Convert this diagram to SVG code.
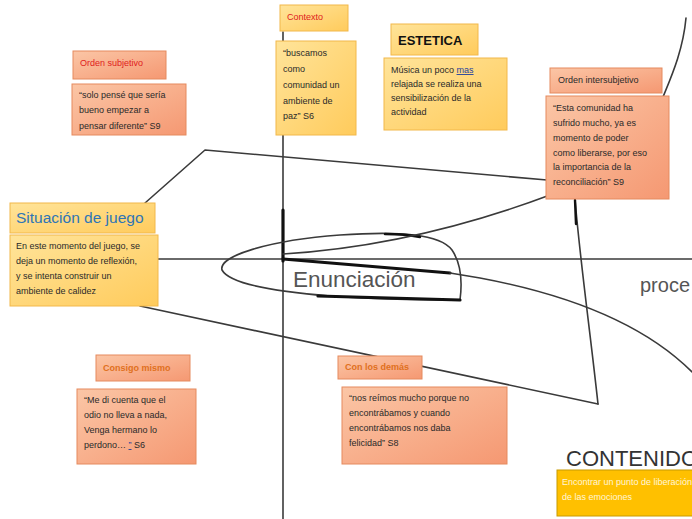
<svg xmlns="http://www.w3.org/2000/svg" width="692" height="519" viewBox="0 0 692 519">
<style>
.ln{fill:none;stroke:#3a3a3a;stroke-width:1.6;stroke-linecap:round;stroke-linejoin:round}
.bold{fill:none;stroke:#111;stroke-width:3.2;stroke-linecap:round}
.sal{fill:url(#gS);stroke:#e58a5e;stroke-width:1}
.yel{fill:url(#gY);stroke:#f2b84a;stroke-width:1}
text{font-family:"Liberation Sans",Arial,sans-serif;font-size:9px;fill:#2a2a2a}
.red{fill:#e02020}
.org{fill:#e07020;font-weight:bold}
.big{fill:#555}
.lt{fill:#fff6d8}
.u{fill:#1f3f9f;text-decoration:underline}
</style>
<defs>
<linearGradient id="gS" x1="0" y1="0" x2="1" y2="1"><stop offset="0" stop-color="#fbc6a6"/><stop offset="1" stop-color="#f59872"/></linearGradient>
<linearGradient id="gY" x1="0" y1="0" x2="1" y2="1"><stop offset="0" stop-color="#ffe49a"/><stop offset="1" stop-color="#ffcb5c"/></linearGradient>
</defs>
<rect width="692" height="519" fill="#fff"/>
<g id="connectors">
<line class="ln" x1="283" y1="32" x2="283" y2="519"/>
<line class="bold" x1="283" y1="210" x2="283" y2="261"/>
<line class="ln" x1="158" y1="259" x2="692" y2="259" style="stroke-width:1.3"/>
<path class="ln" d="M145,203 L205,150 L547,180"/>
<path class="ln" d="M140,306 L598,404"/>
<path class="ln" d="M575,199 C580,260 590,330 598,404"/>
<line class="bold" x1="575" y1="200" x2="576" y2="224" style="stroke-width:2.4"/>
<path class="ln" d="M460,300 C420,300 370,299 330,296 C280,292 230,285 222,270 C218,256 270,240 340,235 C400,231 440,234 452,250 C462,265 462,285 460,300"/>
<path class="bold" d="M318,296 C380,298 430,299 460,300"/>
<path class="bold" d="M385,234 C400,234 410,235 420,237" style="stroke-width:2.4"/>
<path class="ln" d="M283,254 C380,248 470,225 550,195 C600,175 650,130 663,97 C672,75 683,50 686,18"/>
<path class="bold" d="M283,259 L450,273"/>
<path class="ln" d="M450,273 L480,278 C560,293 640,320 692,372"/>
</g>
<text class="big" x="293" y="287" style="font-size:22.5px">Enunciación</text>
<text class="big" x="640" y="292" style="font-size:20px">proce</text>
<text x="566" y="466" style="font-size:22px;fill:#333">CONTENIDO</text>
<g id="orden-subjetivo">
<rect class="sal" x="73" y="51" width="93" height="28"/>
<text class="red" x="80" y="66">Orden subjetivo</text>
</g>
<g id="quote-subjetivo">
<rect class="sal" x="72" y="84" width="114" height="51"/>
<text x="79" y="98">“solo pensé que sería</text>
<text x="79" y="113">bueno empezar a</text>
<text x="79" y="129">pensar diferente” S9</text>
</g>
<g id="contexto">
<rect class="yel" x="280" y="5" width="68" height="26"/>
<text class="red" x="287" y="20">Contexto</text>
</g>
<g id="quote-contexto">
<rect class="yel" x="276" y="41" width="80" height="94"/>
<text x="283" y="56">“buscamos</text>
<text x="283" y="72">como</text>
<text x="283" y="88">comunidad un</text>
<text x="283" y="104">ambiente de</text>
<text x="283" y="119">paz” S6</text>
</g>
<g id="estetica">
<rect class="yel" x="391" y="24" width="87" height="31"/>
<text x="398" y="45" style="font-size:13px;font-weight:bold;fill:#111">ESTETICA</text>
</g>
<g id="quote-estetica">
<rect class="yel" x="384" y="58" width="123" height="72"/>
<text x="391" y="73">Música un poco <tspan class="u">mas</tspan></text>
<text x="391" y="87">relajada se realiza una</text>
<text x="391" y="101">sensibilización de la</text>
<text x="391" y="115">actividad</text>
</g>
<g id="orden-intersubjetivo">
<rect class="sal" x="550" y="68" width="112" height="25"/>
<text x="558" y="83">Orden intersubjetivo</text>
</g>
<g id="quote-intersubjetivo">
<rect class="sal" x="546" y="96" width="123" height="103"/>
<text x="553" y="111">“Esta comunidad ha</text>
<text x="553" y="126">sufrido mucho, ya es</text>
<text x="553" y="141">momento de poder</text>
<text x="553" y="156">como liberarse, por eso</text>
<text x="553" y="170">la importancia de la</text>
<text x="553" y="185">reconciliación” S9</text>
</g>
<g id="situacion">
<rect class="yel" x="10" y="203" width="145" height="30"/>
<text x="16" y="223" style="font-size:15.5px;fill:#2e75b6">Situación de juego</text>
</g>
<g id="quote-situacion">
<rect class="yel" x="10" y="235" width="148" height="71"/>
<text x="16" y="249">En este momento del juego, se</text>
<text x="16" y="264">deja un momento de reflexión,</text>
<text x="16" y="279">y se intenta construir un</text>
<text x="16" y="294">ambiente de calidez</text>
</g>
<g id="consigo">
<rect class="sal" x="96" y="355" width="94" height="26"/>
<text class="org" x="103" y="371">Consigo mismo</text>
</g>
<g id="quote-consigo">
<rect class="sal" x="77" y="389" width="119" height="75"/>
<text x="84" y="403">“Me di cuenta que el</text>
<text x="84" y="418">odio no lleva a nada,</text>
<text x="84" y="433">Venga hermano lo</text>
<text x="84" y="448">perdono… <tspan class="u">”</tspan> S6</text>
</g>
<g id="demas">
<rect class="sal" x="338" y="356" width="84" height="23"/>
<text class="org" x="345" y="370">Con los demás</text>
</g>
<g id="quote-demas">
<rect class="sal" x="342" y="387" width="165" height="77"/>
<text x="349" y="401">“nos reímos mucho porque no</text>
<text x="349" y="416">encontrábamos y cuando</text>
<text x="349" y="431">encontrábamos nos daba</text>
<text x="349" y="446">felicidad” S8</text>
</g>
<g id="contenido">
<rect x="557" y="470" width="140" height="46" style="fill:#ffc000;stroke:#c89a00;stroke-width:1"/>
<text class="lt" x="562" y="485">Encontrar un punto de liberación</text>
<text class="lt" x="562" y="500">de las emociones</text>
</g>
</svg>
